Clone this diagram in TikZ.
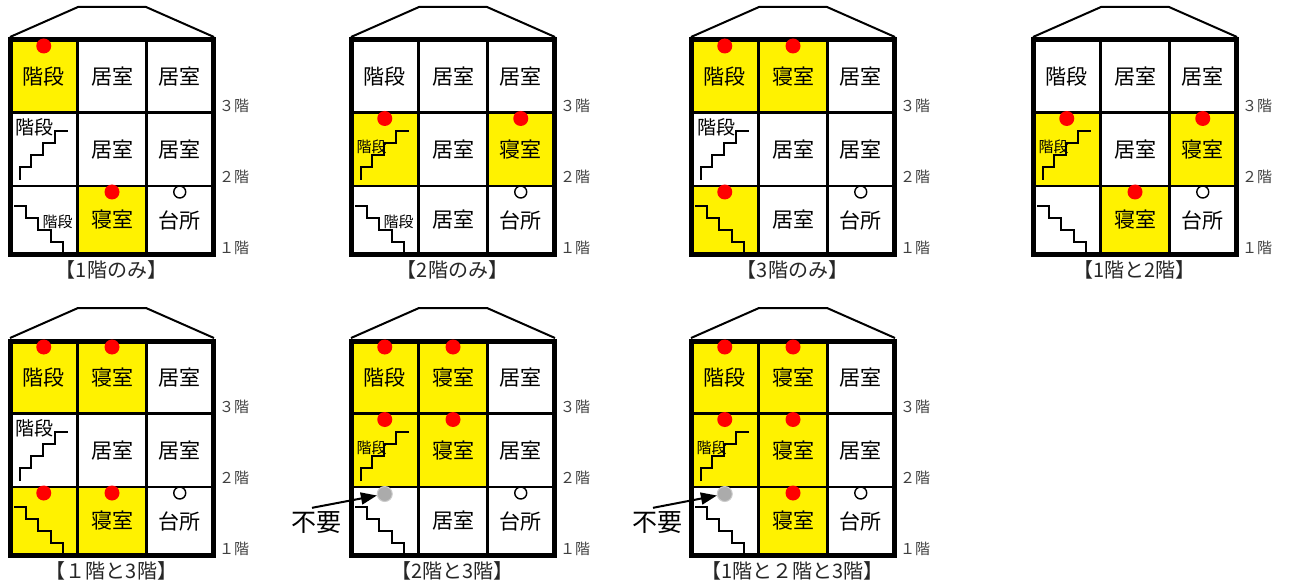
\documentclass[tikz,border=0pt]{standalone}
\usepackage{fontspec}
\setmainfont{Noto Sans CJK JP}
\usetikzlibrary{arrows.meta}

\tikzset{
  room/.style={font=\fontsize{21}{25}\selectfont, inner sep=0pt},
  stairlbl/.style={font=\fontsize{19}{22}\selectfont, inner sep=0pt},
  smalllbl/.style={font=\fontsize{15}{18}\selectfont, inner sep=0pt},
  floorlbl/.style={font=\fontsize{15}{18}\selectfont, text=black!75, inner sep=0pt},
  caption/.style={font=\fontsize{20}{24}\selectfont, text=black!85, inner sep=0pt},
  notelbl/.style={font=\fontsize{25}{28}\selectfont, inner sep=0pt},
  bedroom/.style={fill=yellow},
  wall/.style={line width=2.5pt},
  outer/.style={line width=5pt},
  roofline/.style={line width=2pt},
  stairs/.style={line width=2pt},
  reddot/.style={circle, fill=red, minimum size=15pt, inner sep=0pt},
  opendot/.style={circle, draw, line width=1.4pt, fill=white, minimum size=12pt, inner sep=0pt},
  graydot/.style={circle, fill=black!33, draw=black!20, line width=1pt, minimum size=15pt, inner sep=0pt},
  needarrow/.style={-{Triangle[length=16pt,width=12pt]}, line width=2pt},
}

\begin{document}
\begin{tikzpicture}[x=1pt, y=-1pt]
\useasboundingbox (0,0) rectangle (1289,585);

% yellow rooms
\fill[bedroom, shift={(10,40)}] (0,0) rectangle (67.5,72.5) (67.5,146) rectangle (136.5,214);
\fill[bedroom, shift={(351,40)}] (0,72.5) rectangle (67.5,146) (136.5,72.5) rectangle (203,146);
\fill[bedroom, shift={(691,40)}] (0,0) rectangle (136.5,72.5) (0,146) rectangle (67.5,214);
\fill[bedroom, shift={(1033,40)}] (0,72.5) rectangle (67.5,146) (136.5,72.5) rectangle (203,146) (67.5,146) rectangle (136.5,214);
\fill[bedroom, shift={(10,341)}] (0,0) rectangle (136.5,72.5) (0,146) rectangle (136.5,214);
\fill[bedroom, shift={(351,341)}] (0,0) rectangle (136.5,146);
\fill[bedroom, shift={(691,341)}] (0,0) rectangle (136.5,146) (67.5,146) rectangle (136.5,214);

% the seven houses
\foreach \hn/\hx/\hy/\ra/\rb/\rc/\rd/\cap in {
  h1/10/40/居室/居室/居室/寝室/{【1階のみ】},
  h2/351/40/居室/居室/寝室/居室/{【2階のみ】},
  h3/691/40/寝室/居室/居室/居室/{【3階のみ】},
  h4/1033/40/居室/居室/寝室/寝室/{【1階と2階】},
  h5/10/341/寝室/居室/居室/寝室/{【１階と3階】},
  h6/351/341/寝室/寝室/居室/居室/{【2階と3階】},
  h7/691/341/寝室/寝室/居室/寝室/{【1階と２階と3階】}}
{
\begin{scope}[shift={(\hx,\hy)}]
  \draw[roofline] (0,-3) -- (68,-33) -- (136,-33) -- (204,-3);
  \draw[wall] (67.5,0) -- (67.5,214) (136.5,0) -- (136.5,214) (0,72.5) -- (203,72.5) (0,146) -- (203,146);
  \draw[outer] (0,0) rectangle (203,214);
  % stairs up and down
  \draw[stairs] (10,140) -- (10,127) -- (21,127) -- (21,115) -- (33,115) -- (33,103) -- (45,103) -- (45,91) -- (58,91);
  \draw[stairs] (4,166) -- (16,166) -- (16,178) -- (28,178) -- (28,190) -- (41,190) -- (41,202) -- (53,202) -- (53,215);
  \node[room] (\hn-s3) at (33.75,36.25) {階段};
  \node[room] (\hn-r3b) at (102,36.25) {\ra};
  \node[room] (\hn-r3c) at (169.75,36.25) {居室};
  \node[room] (\hn-r2b) at (102,109.25) {\rb};
  \node[room] (\hn-r2c) at (169.75,109.25) {\rc};
  \node[room] (\hn-r1b) at (102,180) {\rd};
  \node[room] (\hn-r1c) at (169.75,180) {台所};
  \node[opendot] (\hn-k) at (169.75,152) {};
  \node[floorlbl] (\hn-f3) at (224,66) {３階};
  \node[floorlbl] (\hn-f2) at (224,137) {２階};
  \node[floorlbl] (\hn-f1) at (224,208) {１階};
  \node[caption] (\hn-cap) at (101.5,230) {\cap};
\end{scope}
}

\begin{scope}[shift={(10,40)}]
  \node[reddot] (h1-d3a) at (33.75,6) {};
  \node[reddot] (h1-d1b) at (102,152) {};
  \node[stairlbl] (h1-s2) at (25,87) {階段};
  \node[smalllbl] (h1-s1) at (47.7,181.7) {階段};
\end{scope}

\begin{scope}[shift={(351,40)}]
  \node[reddot] (h2-d2a) at (33.75,78.5) {};
  \node[reddot] (h2-d2c) at (169.75,78.5) {};
  \node[smalllbl] (h2-s2) at (20.6,106.5) {階段};
  \node[smalllbl] (h2-s1) at (47.7,181.7) {階段};
\end{scope}

\begin{scope}[shift={(691,40)}]
  \node[reddot] (h3-d3a) at (33.75,6) {};
  \node[reddot] (h3-d3b) at (102,6) {};
  \node[reddot] (h3-d1a) at (33.75,152) {};
  \node[stairlbl] (h3-s2) at (25,87) {階段};
\end{scope}

\begin{scope}[shift={(1033,40)}]
  \node[reddot] (h4-d2a) at (33.75,78.5) {};
  \node[reddot] (h4-d2c) at (169.75,78.5) {};
  \node[reddot] (h4-d1b) at (102,152) {};
  \node[smalllbl] (h4-s2) at (20.6,106.5) {階段};
\end{scope}

\begin{scope}[shift={(10,341)}]
  \node[reddot] (h5-d3a) at (33.75,6) {};
  \node[reddot] (h5-d3b) at (102,6) {};
  \node[reddot] (h5-d1a) at (33.75,152) {};
  \node[reddot] (h5-d1b) at (102,152) {};
  \node[stairlbl] (h5-s2) at (25,87) {階段};
\end{scope}

\begin{scope}[shift={(351,341)}]
  \node[reddot] (h6-d3a) at (33.75,6) {};
  \node[reddot] (h6-d3b) at (102,6) {};
  \node[reddot] (h6-d2a) at (33.75,78.5) {};
  \node[reddot] (h6-d2b) at (102,78.5) {};
  \node[smalllbl] (h6-s2) at (20.6,106.5) {階段};
  \node[graydot] (h6-g1a) at (33.75,153) {};
  \node[notelbl] (h6-note) at (-35,182) {不要};
  \draw[needarrow] ([xshift=-4pt,yshift=4pt]h6-note.north) -- (h6-g1a);
\end{scope}

\begin{scope}[shift={(691,341)}]
  \node[reddot] (h7-d3a) at (33.75,6) {};
  \node[reddot] (h7-d3b) at (102,6) {};
  \node[reddot] (h7-d2a) at (33.75,78.5) {};
  \node[reddot] (h7-d2b) at (102,78.5) {};
  \node[reddot] (h7-d1b) at (102,152) {};
  \node[smalllbl] (h7-s2) at (20.6,106.5) {階段};
  \node[graydot] (h7-g1a) at (33.75,153) {};
  \node[notelbl] (h7-note) at (-34,182) {不要};
  \draw[needarrow] ([xshift=-4pt,yshift=4pt]h7-note.north) -- (h7-g1a);
\end{scope}

\end{tikzpicture}
\end{document}
